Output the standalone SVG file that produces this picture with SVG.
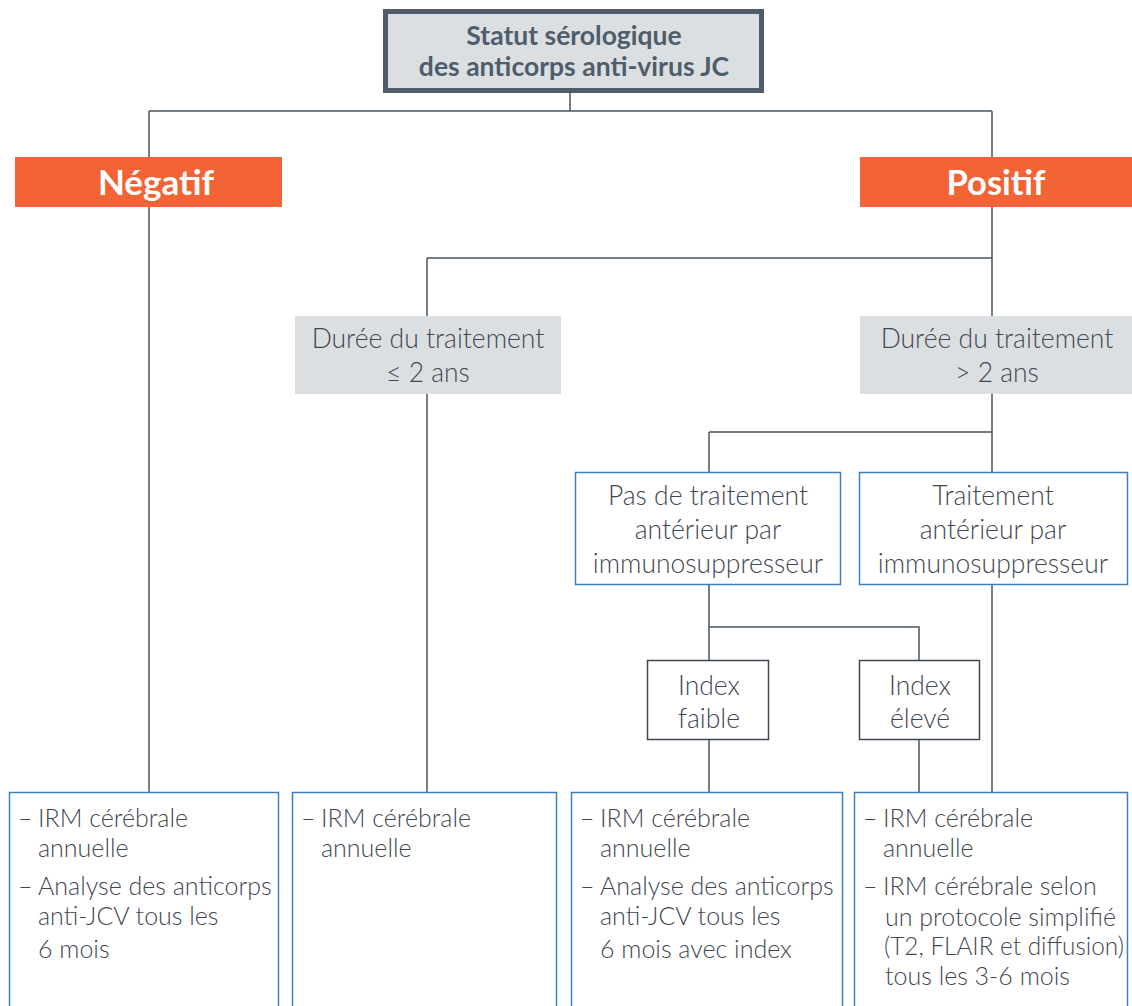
<svg xmlns="http://www.w3.org/2000/svg" width="1132" height="1006" viewBox="0 0 1132 1006">
<style>
.t{font-family:Lato,"Noto Sans","Liberation Sans",sans-serif;font-weight:300;font-size:25px;fill:#3f4852}
.m{font-size:26.5px}
.c{text-anchor:middle}
.b{font-family:Lato,"Noto Sans","Liberation Sans",sans-serif;font-weight:700;text-anchor:middle}
.gray{fill:#dcdfe2}
.org{fill:#f26336}
.blue{fill:#fff;stroke:#3c7fc0;stroke-width:1.5}
.dk{fill:#fff;stroke:#3f4852;stroke-width:1.5}
.ln{fill:none;stroke:#4a545e;stroke-width:1.5}
</style>
<rect width="1132" height="1006" fill="#fff"/>
<g id="connectors" class="ln">
<path d="M570 92V111M149 111H992M149 111V157M992 111V157"/>
<path d="M149 207V792"/>
<path d="M992 207V316M427 258H992M427 258V316"/>
<path d="M427 394V792"/>
<path d="M992 394V472M709 432H992M709 432V472"/>
<path d="M992 585V792"/>
<path d="M709 585V660M709 627H919V660"/>
<path d="M709 740V792M919 740V792"/>
</g>
<g id="root">
<rect x="385.5" y="11.5" width="376" height="79" fill="#dcdfe2" stroke="#4f5d6b" stroke-width="5"/>
<text class="b" x="574" y="45" font-size="26.5" fill="#4f5d6b">Statut sérologique</text>
<text class="b" x="574" y="76" font-size="26.5" fill="#4f5d6b">des anticorps anti-virus JC</text>
</g>
<g id="negatif">
<rect class="org" x="15" y="157" width="267" height="50"/>
<text class="b" x="156" y="195" font-size="35" fill="#fff">Négatif</text>
</g>
<g id="positif">
<rect class="org" x="860" y="157" width="272" height="50"/>
<text class="b" x="996" y="195" font-size="34.5" fill="#fff">Positif</text>
</g>
<g id="duree-le2">
<rect class="gray" x="295" y="316" width="266" height="78"/>
<text class="t m c" x="428" y="348">Durée du traitement</text>
<text class="t m c" x="428" y="382">≤ 2 ans</text>
</g>
<g id="duree-gt2">
<rect class="gray" x="860" y="316" width="272" height="78"/>
<text class="t m c" x="997" y="348">Durée du traitement</text>
<text class="t m c" x="997" y="382">&gt; 2 ans</text>
</g>
<g id="pas-traitement">
<rect class="blue" x="575.5" y="472.5" width="265" height="112"/>
<text class="t m c" x="708" y="505">Pas de traitement</text>
<text class="t m c" x="708" y="539">antérieur par</text>
<text class="t m c" x="708" y="573">immunosuppresseur</text>
</g>
<g id="traitement">
<rect class="blue" x="859.5" y="472.5" width="268" height="112"/>
<text class="t m c" x="993" y="505">Traitement</text>
<text class="t m c" x="993" y="539">antérieur par</text>
<text class="t m c" x="993" y="573">immunosuppresseur</text>
</g>
<g id="index-faible">
<rect class="dk" x="647.5" y="660.5" width="121" height="79"/>
<text class="t m c" x="709" y="695">Index</text>
<text class="t m c" x="709" y="728">faible</text>
</g>
<g id="index-eleve">
<rect class="dk" x="859.5" y="660.5" width="120" height="79"/>
<text class="t m c" x="920" y="695">Index</text>
<text class="t m c" x="920" y="728">élevé</text>
</g>
<g id="res-1">
<rect class="blue" x="9.5" y="792.5" width="269" height="220"/>
<text class="t" x="18" y="827">–</text>
<text class="t" x="38" y="827">IRM cérébrale</text>
<text class="t" x="38" y="857">annuelle</text>
<text class="t" x="18" y="895">–</text>
<text class="t" x="38" y="895">Analyse des anticorps</text>
<text class="t" x="38" y="925">anti-JCV tous les</text>
<text class="t" x="38" y="958">6 mois</text>
</g>
<g id="res-2">
<rect class="blue" x="292.5" y="792.5" width="264" height="220"/>
<text class="t" x="301" y="827">–</text>
<text class="t" x="321" y="827">IRM cérébrale</text>
<text class="t" x="321" y="857">annuelle</text>
</g>
<g id="res-3">
<rect class="blue" x="571.5" y="792.5" width="271" height="220"/>
<text class="t" x="580" y="827">–</text>
<text class="t" x="600" y="827">IRM cérébrale</text>
<text class="t" x="600" y="857">annuelle</text>
<text class="t" x="580" y="895">–</text>
<text class="t" x="600" y="895">Analyse des anticorps</text>
<text class="t" x="600" y="925">anti-JCV tous les</text>
<text class="t" x="600" y="958">6 mois avec index</text>
</g>
<g id="res-4">
<rect class="blue" x="854.5" y="792.5" width="273" height="220"/>
<text class="t" x="863" y="827">–</text>
<text class="t" x="883" y="827">IRM cérébrale</text>
<text class="t" x="883" y="857">annuelle</text>
<text class="t" x="863" y="895">–</text>
<text class="t" x="883" y="895">IRM cérébrale selon</text>
<text class="t" x="885" y="926">un protocole simplifié</text>
<text class="t" x="884" y="955" textLength="240" lengthAdjust="spacingAndGlyphs">(T2, FLAIR et diffusion)</text>
<text class="t" x="885" y="985">tous les 3-6 mois</text>
</g>
</svg>
